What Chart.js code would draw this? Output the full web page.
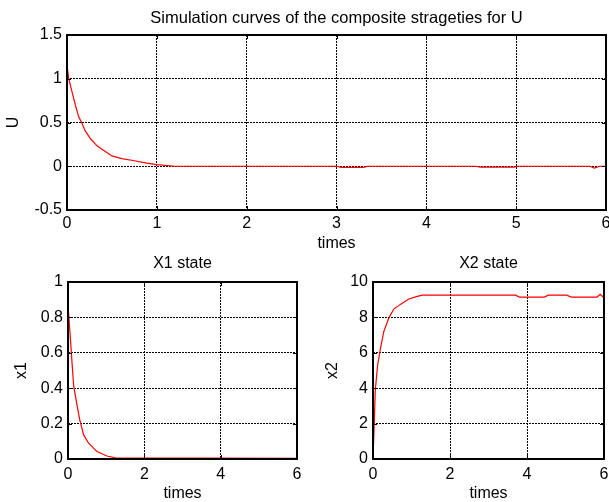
<!DOCTYPE html>
<html>
<head>
<meta charset="utf-8">
<script src="https://cdn.jsdelivr.net/npm/chart.js@4.4.1/dist/chart.umd.min.js"></script>
<style>
  html, body { margin: 0; padding: 0; background: #fff; }
  body { width: 609px; height: 502px; position: relative; overflow: hidden; }
  canvas { position: absolute; }
</style>
</head>
<body>
<canvas id="cU" width="609" height="255" style="left:0;top:0"></canvas>
<canvas id="cX1" width="305" height="254" style="left:0;top:250px"></canvas>
<canvas id="cX2" width="304" height="254" style="left:305px;top:250px"></canvas>
<script>
// ---- data ----
const uTimes  = [0, 0.02, 0.056, 0.093, 0.13, 0.167, 0.2, 0.26, 0.334, 0.39, 0.5, 0.61, 0.735, 0.89, 1.0, 1.2, 3.0, 3.05, 3.3, 3.35, 4.55, 4.6, 4.98, 5.02, 5.82, 5.87, 5.93, 6];
const uValues = [1.15, 1.0, 0.85, 0.70, 0.565, 0.49, 0.41, 0.317, 0.233, 0.195, 0.118, 0.088, 0.066, 0.035, 0.018, 0, 0, -0.012, -0.012, 0, 0, -0.01, -0.01, 0, 0, -0.02, 0, 0];

const x1Times  = [0, 0.06, 0.1, 0.15, 0.24, 0.31, 0.41, 0.54, 0.76, 1.02, 1.24, 6];
const x1Values = [0.87, 0.69, 0.56, 0.41, 0.30, 0.22, 0.136, 0.089, 0.042, 0.017, 0.006, 0.003];

const x2Times  = [0, 0.026, 0.06, 0.12, 0.19, 0.28, 0.41, 0.54, 0.72, 0.93, 1.15, 1.28, 3.7, 3.8, 4.45, 4.55, 5.03, 5.15, 5.82, 5.9, 5.98, 6];
const x2Values = [0, 1.64, 3.9, 5.3, 6.2, 7.2, 7.96, 8.47, 8.75, 9.04, 9.19, 9.26, 9.26, 9.15, 9.15, 9.26, 9.26, 9.15, 9.15, 9.3, 9.15, 9.15];

const titles = {
  u: 'Simulation curves of the composite strageties for U',
  x1: 'X1 state',
  x2: 'X2 state'
};
const axisLabels = { time: 'times', u: 'U', x1: 'x1', x2: 'x2' };

// ---- styling ----
Chart.defaults.font.family = '"Liberation Sans", Arial, sans-serif';
Chart.defaults.font.size = 16;
Chart.defaults.color = '#000';

const boxPlugin = {
  id: 'matlabBox',
  afterDraw(chart) {
    const ctx = chart.ctx;
    const a = chart.chartArea;
    const xs = chart.scales.x, ys = chart.scales.y;
    ctx.save();
    ctx.strokeStyle = '#000';
    ctx.lineWidth = 1;
    ctx.beginPath();
    xs.ticks.forEach(t => {
      const px = Math.round(xs.getPixelForValue(t.value)) + 0.5;
      ctx.moveTo(px, a.bottom); ctx.lineTo(px, a.bottom - 4);
      ctx.moveTo(px, a.top); ctx.lineTo(px, a.top + 4);
    });
    ys.ticks.forEach(t => {
      const py = Math.round(ys.getPixelForValue(t.value)) + 0.5;
      ctx.moveTo(a.left, py); ctx.lineTo(a.left + 4, py);
      ctx.moveTo(a.right, py); ctx.lineTo(a.right - 4, py);
    });
    ctx.stroke();
    ctx.lineWidth = 2;
    ctx.strokeRect(a.left, a.top, a.right - a.left, a.bottom - a.top);
    ctx.restore();
  }
};

function fmt(v) { return String(Math.round(v * 1000) / 1000); }

function makeChart(id, o) {
  const pts = o.times.map((t, i) => ({ x: t, y: o.values[i] }));
  return new Chart(document.getElementById(id), {
    type: 'line',
    data: { datasets: [{ data: pts, borderColor: '#ff0000', borderWidth: 1.2, pointRadius: 0, tension: 0, fill: false }] },
    options: {
      responsive: false,
      animation: false,
      devicePixelRatio: 1,
      layout: { padding: { left: 0, right: o.padRight, top: 0, bottom: 0 } },
      plugins: {
        legend: { display: false },
        tooltip: { enabled: false },
        title: { display: true, fullSize: false, text: o.title, color: '#000', font: { size: o.titleSize, weight: 'normal' }, padding: { top: o.titleTop, bottom: o.titleBottom } }
      },
      scales: {
        x: {
          type: 'linear', min: o.xMin, max: o.xMax,
          ticks: { stepSize: o.xStep, padding: o.xTickPad, color: '#000', callback: fmt, maxRotation: 0, autoSkip: false },
          grid: { color: '#000', lineWidth: 1, drawTicks: false },
          border: { display: false, dash: [2, 1] },
          title: { display: true, text: axisLabels.time, color: '#000', padding: { top: 0, bottom: o.xTitlePad } },
          afterFit(s) { s.height = o.xAxisH; s.paddingLeft = 0; s.paddingRight = 0; }
        },
        y: {
          type: 'linear', min: o.yMin, max: o.yMax,
          ticks: { stepSize: o.yStep, padding: 5, color: '#000', callback: fmt, autoSkip: false },
          grid: { color: '#000', lineWidth: 1, drawTicks: false },
          border: { display: false, dash: [2, 1] },
          title: { display: true, text: o.yLabel, color: '#000', padding: { top: o.yTitlePad, bottom: 0 } },
          afterFit(s) { s.width = o.yAxisW; s.paddingTop = 0; s.paddingBottom = 0; }
        }
      }
    },
    plugins: [boxPlugin]
  });
}

makeChart('cU', {
  times: uTimes, values: uValues, title: titles.u, yLabel: axisLabels.u, titleSize: 16.5,
  xMin: 0, xMax: 6, xStep: 1, yMin: -0.5, yMax: 1.5, yStep: 0.5,
  padRight: 3, titleTop: 9, titleBottom: 6.2, yAxisW: 67, xAxisH: 45,
  xTickPad: 4.4, xTitlePad: 1.4, yTitlePad: 4.4
});
makeChart('cX1', {
  times: x1Times, values: x1Values, title: titles.x1, yLabel: axisLabels.x1, titleSize: 16,
  xMin: 0, xMax: 6, xStep: 2, yMin: 0, yMax: 1, yStep: 0.2,
  padRight: 8, titleTop: 4.4, titleBottom: 8.4, yAxisW: 68, xAxisH: 45,
  xTickPad: 5.9, xTitlePad: 0.4, yTitlePad: 12.4
});
makeChart('cX2', {
  times: x2Times, values: x2Values, title: titles.x2, yLabel: axisLabels.x2, titleSize: 16,
  xMin: 0, xMax: 6, xStep: 2, yMin: 0, yMax: 10, yStep: 2,
  padRight: 5, titleTop: 4.4, titleBottom: 8.4, yAxisW: 68, xAxisH: 45,
  xTickPad: 5.9, xTitlePad: 0.4, yTitlePad: 18.4
});
</script>
</body>
</html>
